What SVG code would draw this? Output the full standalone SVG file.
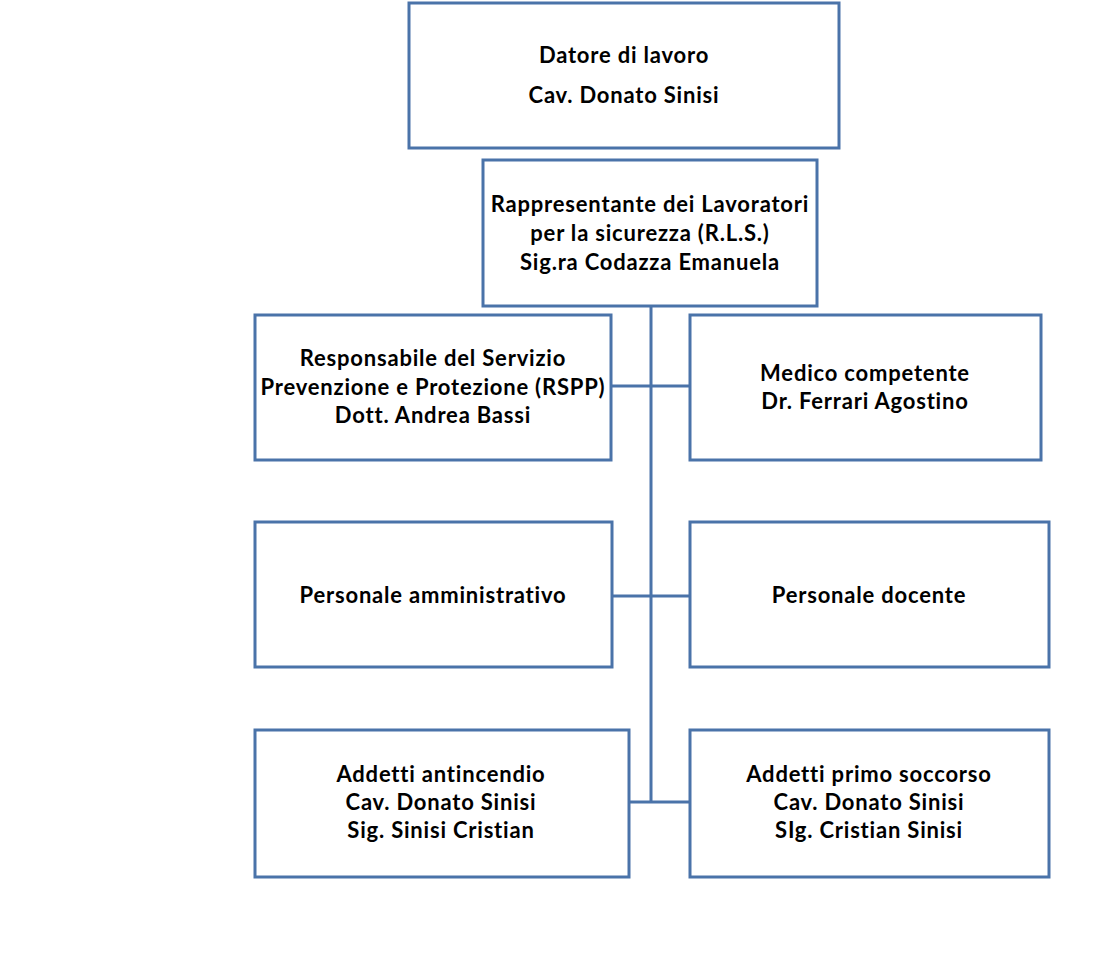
<svg xmlns="http://www.w3.org/2000/svg" width="1104" height="980" viewBox="0 0 1104 980">
<style>
.box{fill:#ffffff;stroke:#4a73a9;stroke-width:3}
.ln{stroke:#4a73a9;stroke-width:3;fill:none}
text{font-family:Lato,"Open Sans","Liberation Sans",sans-serif;font-weight:bold;font-size:22px;letter-spacing:0.8px;fill:#000;text-anchor:middle}
</style>
<rect width="1104" height="980" fill="#ffffff"/>
<g id="connectors">
<path class="ln" d="M651 306V802M611 386H690M612 596H690M629 802H690"/>
</g>
<g id="datore">
<rect class="box" x="409" y="3" width="430" height="145"/>
<text x="624" y="63">Datore di lavoro</text>
<text x="624" y="103">Cav. Donato Sinisi</text>
</g>
<g id="rls">
<rect class="box" x="483" y="160" width="334" height="146"/>
<text x="650" y="212">Rappresentante dei Lavoratori</text>
<text x="650" y="241">per la sicurezza (R.L.S.)</text>
<text x="650" y="270">Sig.ra Codazza Emanuela</text>
</g>
<g id="rspp">
<rect class="box" x="255" y="315" width="356" height="145"/>
<text x="433" y="366">Responsabile del Servizio</text>
<text x="433" y="395">Prevenzione e Protezione (RSPP)</text>
<text x="433" y="423">Dott. Andrea Bassi</text>
</g>
<g id="medico">
<rect class="box" x="690" y="315" width="351" height="145"/>
<text x="865" y="381">Medico competente</text>
<text x="865" y="409">Dr. Ferrari Agostino</text>
</g>
<g id="amministrativo">
<rect class="box" x="255" y="522" width="357" height="145"/>
<text x="433" y="603">Personale amministrativo</text>
</g>
<g id="docente">
<rect class="box" x="690" y="522" width="359" height="145"/>
<text x="869" y="603">Personale docente</text>
</g>
<g id="antincendio">
<rect class="box" x="255" y="730" width="374" height="147"/>
<text x="441" y="782">Addetti antincendio</text>
<text x="441" y="810">Cav. Donato Sinisi</text>
<text x="441" y="838">Sig. Sinisi Cristian</text>
</g>
<g id="primosoccorso">
<rect class="box" x="690" y="730" width="359" height="147"/>
<text x="869" y="782">Addetti primo soccorso</text>
<text x="869" y="810">Cav. Donato Sinisi</text>
<text x="869" y="838">SIg. Cristian Sinisi</text>
</g>
</svg>
